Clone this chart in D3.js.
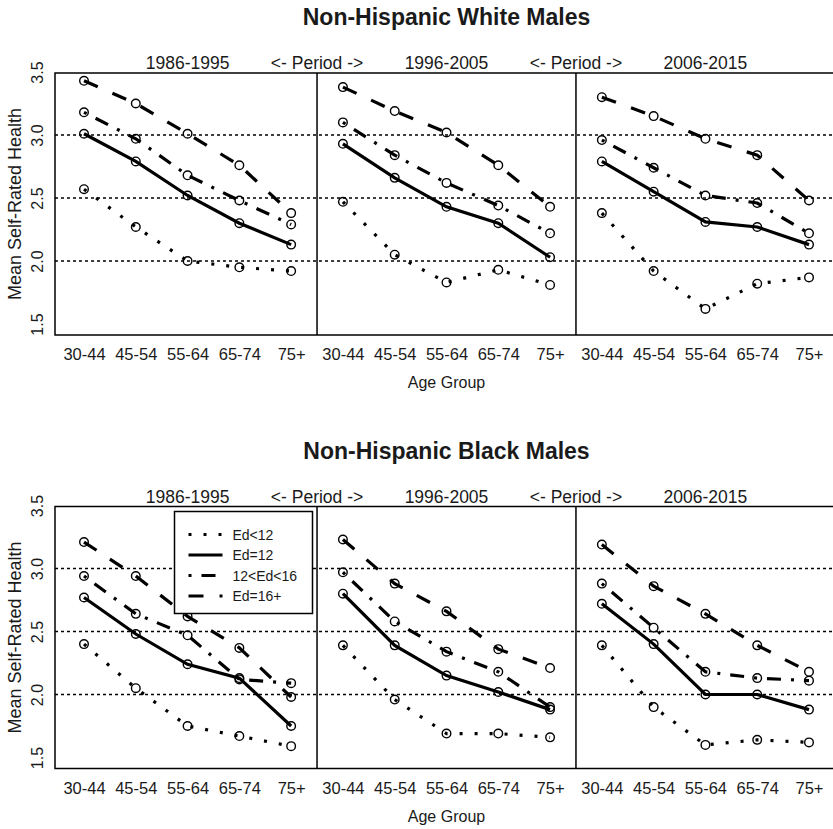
<!DOCTYPE html>
<html>
<head>
<meta charset="utf-8">
<script src="https://cdn.jsdelivr.net/npm/d3@7"></script>
<style>
  body { margin: 0; background: #fff; }
  svg text { font-family: 'Liberation Sans', Arial, sans-serif; fill: #1a1a1a; }
</style>
</head>
<body>
<div id="chart"></div>
<script>
const WIDTH = 833;
const HEIGHT = 829;

const AGE_GROUPS = ['30-44', '45-54', '55-64', '65-74', '75+'];
const PERIODS = ['1986-1995', '1996-2005', '2006-2015'];
const EDUCATION = ['Ed<12', 'Ed=12', '12<Ed<16', 'Ed=16+'];
const Y_TICKS = [1.5, 2.0, 2.5, 3.0, 3.5];
const GRID_LINES = [2.0, 2.5, 3.0];

// 15 values per group: 5 age groups for each of the 3 periods
const whiteEdLt12 = [2.57, 2.27, 2.00, 1.95, 1.92, 2.47, 2.05, 1.83, 1.93, 1.81, 2.38, 1.92, 1.62, 1.82, 1.87];
const whiteEd12 = [3.01, 2.79, 2.52, 2.30, 2.13, 2.93, 2.66, 2.43, 2.30, 2.03, 2.79, 2.55, 2.31, 2.27, 2.13];
const whiteEd12to16 = [3.18, 2.97, 2.68, 2.48, 2.29, 3.10, 2.84, 2.62, 2.44, 2.22, 2.96, 2.74, 2.52, 2.46, 2.22];
const whiteEd16 = [3.43, 3.25, 3.01, 2.76, 2.38, 3.38, 3.19, 3.02, 2.76, 2.43, 3.30, 3.15, 2.97, 2.84, 2.48];

const blackEdLt12 = [2.40, 2.05, 1.75, 1.67, 1.59, 2.39, 1.96, 1.69, 1.69, 1.66, 2.39, 1.90, 1.60, 1.64, 1.62];
const blackEd12 = [2.77, 2.48, 2.24, 2.13, 1.75, 2.80, 2.39, 2.15, 2.02, 1.88, 2.72, 2.40, 2.00, 2.00, 1.88];
const blackEd12to16 = [2.94, 2.64, 2.47, 2.12, 2.09, 2.97, 2.58, 2.34, 2.18, 1.90, 2.88, 2.53, 2.18, 2.13, 2.11];
const blackEd16 = [3.21, 2.94, 2.62, 2.37, 1.98, 3.23, 2.88, 2.66, 2.36, 2.21, 3.19, 2.86, 2.64, 2.39, 2.18];

const DASHES = [ '3,12', null, '3,10,14,10', '15,16' ];

const svg = d3.select('#chart').append('svg')
  .attr('width', WIDTH)
  .attr('height', HEIGHT);

// positions 1..15 shared by both panels
const x = d3.scaleLinear()
  .domain([0.44, 15.56])
  .range([55, 838]);

function drawPanel(top, title, series, withLegend) {
  const y = d3.scaleLinear()
    .domain([1.5, 3.5])
    .range([top + 251, top - 1]);
  const bottom = top + 262;

  const g = svg.append('g');

  g.append('text')
    .attr('x', x(8))
    .attr('y', top - 48)
    .attr('text-anchor', 'middle')
    .attr('font-size', 23)
    .attr('font-weight', 'bold')
    .text(title);

  // period captions above the frame
  const captions = [
    [3, PERIODS[0]], [5.5, '<- Period ->'], [8, PERIODS[1]],
    [10.5, '<- Period ->'], [13, PERIODS[2]],
  ];
  g.selectAll('.caption').data(captions).enter().append('text')
    .attr('x', d => x(d[0]))
    .attr('y', top - 4)
    .attr('text-anchor', 'middle')
    .attr('font-size', 17.5)
    .text(d => d[1]);

  GRID_LINES.forEach(v => {
    g.append('line')
      .attr('x1', x.range()[0]).attr('x2', x.range()[1])
      .attr('y1', y(v)).attr('y2', y(v))
      .attr('stroke', '#000')
      .attr('stroke-width', 1.4)
      .attr('stroke-dasharray', '3,3');
  });

  [5.5, 10.5].forEach(v => {
    g.append('line')
      .attr('x1', x(v)).attr('x2', x(v))
      .attr('y1', top).attr('y2', bottom)
      .attr('stroke', '#000')
      .attr('stroke-width', 1.5);
  });

  g.append('rect')
    .attr('x', x.range()[0])
    .attr('y', top)
    .attr('width', x.range()[1] - x.range()[0])
    .attr('height', bottom - top)
    .attr('fill', 'none')
    .attr('stroke', '#000')
    .attr('stroke-width', 1.5);

  // axes
  const xAxis = d3.axisBottom(x)
    .tickValues(d3.range(1, 16))
    .tickFormat(d => AGE_GROUPS[(d - 1) % 5])
    .tickSize(0)
    .tickPadding(0);
  const xg = g.append('g')
    .attr('transform', `translate(0, ${bottom})`)
    .call(xAxis);
  xg.select('.domain').remove();
  xg.selectAll('text')
    .attr('y', 25)
    .attr('dy', 0)
    .attr('font-size', 16.5)
    .attr('font-family', null)
    .attr('fill', null);

  const yAxis = d3.axisLeft(y)
    .tickValues(Y_TICKS)
    .tickFormat(d3.format('.1f'))
    .tickSize(0);
  const yg = g.append('g')
    .attr('transform', `translate(${x.range()[0]}, 0)`)
    .call(yAxis);
  yg.select('.domain').remove();
  yg.selectAll('text')
    .attr('transform', 'rotate(-90)')
    .attr('x', 0)
    .attr('y', -12)
    .attr('dy', 0)
    .attr('text-anchor', 'middle')
    .attr('font-size', 16)
    .attr('font-family', null)
    .attr('fill', null);

  g.append('text')
    .attr('transform', `translate(21, ${(top + bottom) / 2}) rotate(-90)`)
    .attr('text-anchor', 'middle')
    .attr('font-size', 18)
    .text('Mean Self-Rated Health');

  g.append('text')
    .attr('x', x(8))
    .attr('y', bottom + 53)
    .attr('text-anchor', 'middle')
    .attr('font-size', 16)
    .text('Age Group');

  const line = d3.line()
    .x(d => x(d.pos))
    .y(d => y(d.value));

  series.forEach((values, s) => {
    PERIODS.forEach((p, pi) => {
      const pts = AGE_GROUPS.map((a, ai) => ({
        pos: pi * 5 + ai + 1,
        value: values[pi * 5 + ai],
      }));
      g.append('path')
        .datum(pts)
        .attr('fill', 'none')
        .attr('stroke', '#000')
        .attr('stroke-width', 3.2)
        .attr('stroke-dasharray', DASHES[s])
        .attr('d', line);
      g.selectAll(null).data(pts).enter().append('circle')
        .attr('cx', d => x(d.pos))
        .attr('cy', d => y(d.value))
        .attr('r', 4.3)
        .attr('fill', 'none')
        .attr('stroke', '#000')
        .attr('stroke-width', 1.4);
    });
  });

  if (withLegend) {
    const lg = g.append('g').attr('transform', `translate(174.5, ${top + 5})`);
    lg.append('rect')
      .attr('width', 138)
      .attr('height', 102)
      .attr('fill', '#fff')
      .attr('stroke', '#000')
      .attr('stroke-width', 1.5);
    EDUCATION.forEach((name, i) => {
      const ry = 23 + i * 20.5;
      lg.append('line')
        .attr('x1', 14).attr('x2', 48)
        .attr('y1', ry).attr('y2', ry)
        .attr('stroke', '#000')
        .attr('stroke-width', 3.2)
        .attr('stroke-dasharray', DASHES[i]);
      lg.append('text')
        .attr('x', 58)
        .attr('y', ry + 5)
        .attr('font-size', 14)
        .attr('fill', '#333')
        .text(name);
    });
  }
}

drawPanel(73, 'Non-Hispanic White Males', [whiteEdLt12, whiteEd12, whiteEd12to16, whiteEd16], false);
drawPanel(506.5, 'Non-Hispanic Black Males', [blackEdLt12, blackEd12, blackEd12to16, blackEd16], true);
</script>
</body>
</html>
